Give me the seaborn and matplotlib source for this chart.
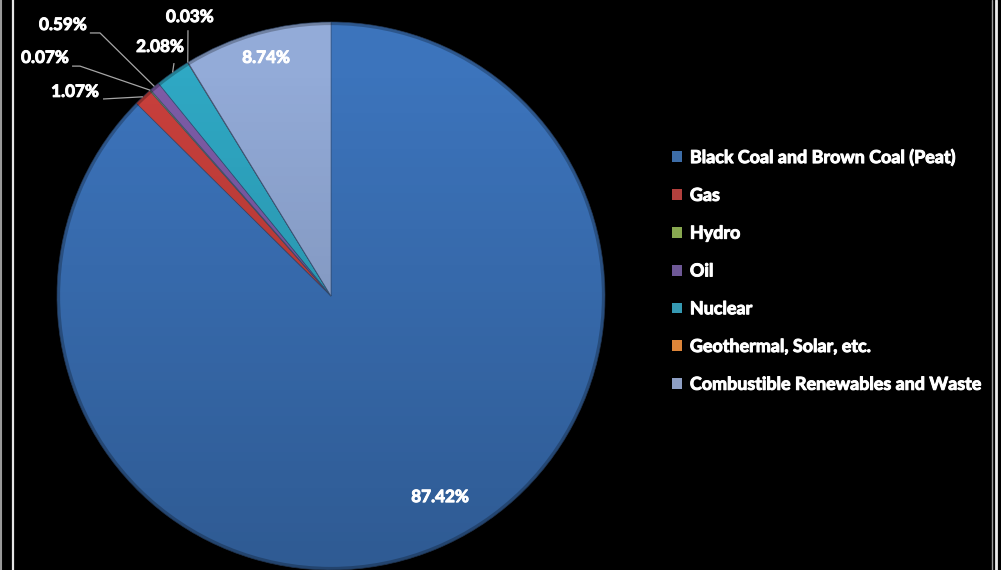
import numpy as np
import matplotlib
matplotlib.use("Agg")
import matplotlib.pyplot as plt
import matplotlib.patheffects as pe
from matplotlib.lines import Line2D
from matplotlib.patches import Patch, Circle
import seaborn as sns

# Electricity generation by fuel source (share of total, %)
sources = [
    "Black Coal and Brown Coal (Peat)",
    "Gas",
    "Hydro",
    "Oil",
    "Nuclear",
    "Geothermal, Solar, etc.",
    "Combustible Renewables and Waste",
]
shares = [87.42, 1.07, 0.07, 0.59, 2.08, 0.03, 8.74]
share_labels = ["87.42%", "1.07%", "0.07%", "0.59%", "2.08%", "0.03%", "8.74%"]

sns.set_theme(style="dark")
plt.rcParams["font.family"] = ["Lato", "DejaVu Sans"]

wedge_colors = ["#3C74BC", "#C9403C", "#8DB04C", "#7D5CA7", "#2FA8C4", "#E8882F", "#93ABD8"]
legend_colors = ["#3D6DA8", "#B3403D", "#88A850", "#6E5896", "#3599B2", "#DD8539", "#8E9FC4"]

# label placement (pie radius units): text centre, leader start, leader elbow
label_layout = {
    0: dict(text=(0.398, -0.734), inside=True),
    6: dict(text=(-0.237, 0.869), inside=True),
    1: dict(text=(-0.934, 0.745), start=(-0.832, 0.719), elbow=(-0.832, 0.719)),
    2: dict(text=(-1.044, 0.869), start=(-0.945, 0.839), elbow=(-0.916, 0.839)),
    3: dict(text=(-0.978, 0.989), start=(-0.880, 0.960), elbow=(-0.843, 0.960)),
    4: dict(text=(-0.624, 0.909), start=(-0.573, 0.850), elbow=(-0.573, 0.850)),
    5: dict(text=(-0.515, 1.018), start=(-0.522, 0.970), elbow=(-0.522, 0.970)),
}

W, H = 1001, 570
fig = plt.figure(figsize=(W / 100, H / 100), dpi=100, facecolor="black")
ax = fig.add_axes([0, 0, 1, 1])
ax.set_facecolor("black")

cx, cy, R = 331, 296, 274

wedges, _ = ax.pie(
    shares,
    colors=wedge_colors,
    startangle=90,
    counterclock=False,
    radius=1.0,
    wedgeprops=dict(linewidth=0.6, edgecolor=(0.2, 0.3, 0.45, 0.6)),
)

# soft vertical shading over the disc: lighter at the top, darker towards the bottom
grad = np.linspace(0, 1, 256)
shade = np.zeros((256, 1, 4))
shade[:, 0, 3] = np.clip(0.24 * grad - 0.02, 0, 1)
img = ax.imshow(shade, extent=(-1, 1, -1, 1), origin="upper", aspect="auto", zorder=3)
img.set_clip_path(Circle((0, 0), 1.0, transform=ax.transData))
rim = Circle((0, 0), 0.995, fill=False, lw=2.5, ec=(0, 0, 0, 0.25), zorder=4)
ax.add_patch(rim)

ax.set_xlim(-cx / R, (W - cx) / R)
ax.set_ylim(-(H - cy) / R, cy / R)
ax.set_aspect("equal")
ax.axis("off")

heavy = [pe.withStroke(linewidth=0.7, foreground="white")]

# value labels with leader lines
for i, w in enumerate(wedges):
    lay = label_layout[i]
    tx, ty = lay["text"]
    ax.text(tx, ty, share_labels[i], color="white", fontsize=12.3, fontweight="bold",
            ha="center", va="center", zorder=6, path_effects=heavy)
    if lay.get("inside"):
        continue
    mid = np.deg2rad((w.theta1 + w.theta2) / 2)
    ex, ey = np.cos(mid), np.sin(mid)
    sx, sy = lay["start"]
    bx, by = lay["elbow"]
    ax.plot([sx, bx, ex], [sy, by, ey], color="#A6A6A6", lw=0.9, zorder=5,
            solid_capstyle="butt")

handles = [Patch(facecolor=c, edgecolor="none") for c in legend_colors]
leg = ax.legend(
    handles, sources,
    loc="upper left",
    bbox_to_anchor=(672 / W, 1 - 148 / H),
    bbox_transform=fig.transFigure,
    frameon=False,
    fontsize=12.9,
    handlelength=0.55,
    handleheight=0.55,
    handletextpad=0.45,
    labelspacing=1.16,
    borderaxespad=0,
    borderpad=0,
)
for t in leg.get_texts():
    t.set_color("white")
    t.set_fontweight("bold")
    t.set_path_effects(heavy)

# double frame lines on the left and right edges
for x, c, lw in [(0.5, "#9A9A9A", 1.5), (12.5, "#E6E6E6", 1.6), (992, "#9A9A9A", 1.0), (995.5, "#EDEDED", 2.0)]:
    fig.add_artist(Line2D([x / W, x / W], [0, 1], transform=fig.transFigure, color=c, lw=lw))

fig.savefig("out.png", dpi=100, facecolor="black")
